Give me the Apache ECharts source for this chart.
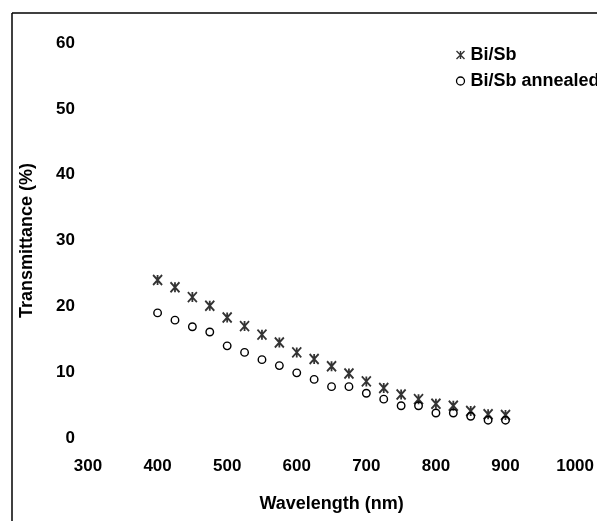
<!DOCTYPE html>
<html>
<head>
<meta charset="utf-8">
<script src="https://cdn.jsdelivr.net/npm/echarts@6/dist/echarts.min.js"></script>
<style>
html,body{margin:0;padding:0;background:#fff;}
#c{width:597px;height:521px;}
</style>
</head>
<body>
<div id="c"></div>
<script>
var wavelengths = [400,425,450,475,500,525,550,575,600,625,650,675,700,725,750,775,800,825,850,875,900];
var bisb = [24.0,22.9,21.4,20.1,18.3,17.0,15.7,14.5,13.0,12.0,10.9,9.8,8.6,7.6,6.6,5.9,5.2,4.9,4.1,3.6,3.5];
var bisbAnnealed = [19.0,17.9,16.9,16.1,14.0,13.0,11.9,11.0,9.9,8.9,7.8,7.8,6.8,5.9,4.9,4.9,3.8,3.8,3.3,2.7,2.7];
var seriesNames = ['Bi/Sb','Bi/Sb annealed'];
var xTicks = {min:300, max:1000, interval:100};
var yTicks = {min:0, max:60, interval:10};

function pairs(xs, ys){ return xs.map(function(x,i){ return [x, ys[i]]; }); }

var starPath = 'path://M0,0L10,10M10,0L0,10M5,0L5,10';
var font = 'Liberation Sans, Arial, sans-serif';

var chart = echarts.init(document.getElementById('c'), null, {renderer:'canvas'});
chart.setOption({
  animation:false,
  backgroundColor:'#fff',
  grid:{left:88, right:19, top:43, bottom:83, containLabel:false},
  xAxis:{
    type:'value', min:xTicks.min, max:xTicks.max, interval:xTicks.interval,
    axisLine:{show:false}, axisTick:{show:false}, splitLine:{show:false},
    axisLabel:{color:'#000', fontWeight:'bold', fontSize:17, fontFamily:font, margin:20,
      formatter:function(v){ return String(v); }},
    name:'Wavelength (nm)', nameLocation:'middle', nameGap:57,
    nameTextStyle:{color:'#000', fontWeight:'bold', fontSize:18, fontFamily:font}
  },
  yAxis:{
    type:'value', min:yTicks.min, max:yTicks.max, interval:yTicks.interval,
    axisLine:{show:false}, axisTick:{show:false}, splitLine:{show:false},
    axisLabel:{color:'#000', fontWeight:'bold', fontSize:17, fontFamily:font, margin:13},
    name:'Transmittance (%)', nameLocation:'middle', nameGap:52,
    nameTextStyle:{color:'#000', fontWeight:'bold', fontSize:18, fontFamily:font}
  },
  legend:{
    left:454, top:46, orient:'vertical', padding:0, itemGap:8, itemWidth:8, itemHeight:8,
    textStyle:{color:'#000', fontWeight:'bold', fontSize:18, fontFamily:font, padding:[0,0,0,1]},
    data:[
      {name:seriesNames[0], icon:starPath, itemStyle:{color:'none', borderColor:'#000', borderWidth:1.4}},
      {name:seriesNames[1], icon:'circle', itemStyle:{color:'#fff', borderColor:'#000', borderWidth:1.3}}
    ]
  },
  series:[
    {name:seriesNames[0], type:'scatter', symbol:starPath, symbolSize:[9,10],
     itemStyle:{color:'none', borderColor:'#000', borderWidth:1.9},
     data:pairs(wavelengths, bisb)},
    {name:seriesNames[1], type:'scatter', symbol:'circle', symbolSize:7.5,
     itemStyle:{color:'rgba(255,255,255,0)', borderColor:'#000', borderWidth:1.4, opacity:1},
     data:pairs(wavelengths, bisbAnnealed)}
  ],
  graphic:[
    {type:'line', shape:{x1:12, y1:13, x2:597, y2:13}, style:{stroke:'#000', lineWidth:1.5}},
    {type:'line', shape:{x1:12, y1:13, x2:12, y2:521}, style:{stroke:'#000', lineWidth:1.5}}
  ]
});
</script>
</body>
</html>
